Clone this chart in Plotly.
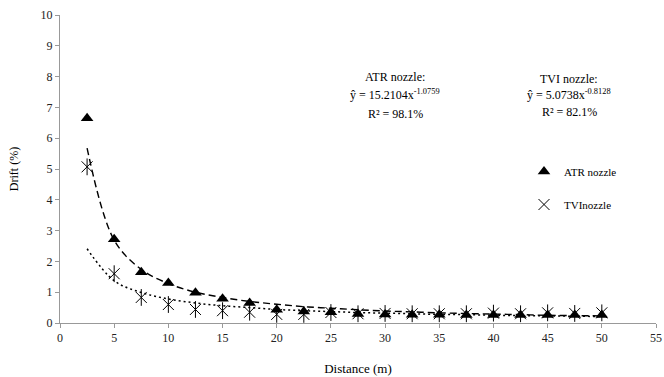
import plotly.graph_objects as go

distance = [2.5, 5, 7.5, 10, 12.5, 15, 17.5, 20, 22.5, 25, 27.5, 30, 32.5, 35, 37.5, 40, 42.5, 45, 47.5, 50]
atr_drift = [6.65, 2.72, 1.65, 1.30, 0.98, 0.79, 0.65, 0.43, 0.37, 0.35, 0.29, 0.28, 0.27, 0.27, 0.26, 0.26, 0.26, 0.26, 0.26, 0.26]
tvi_drift = [5.07, 1.60, 0.83, 0.60, 0.44, 0.40, 0.35, 0.28, 0.28, 0.34, 0.30, 0.31, 0.30, 0.30, 0.30, 0.32, 0.30, 0.33, 0.31, 0.33]
atr_fit = [5.68, 2.69, 1.74, 1.28, 1.00, 0.83, 0.70, 0.61, 0.53, 0.48, 0.43, 0.39, 0.36, 0.33, 0.31, 0.29, 0.27, 0.25, 0.24, 0.23]
tvi_fit = [2.41, 1.37, 0.99, 0.78, 0.65, 0.56, 0.50, 0.44, 0.40, 0.37, 0.34, 0.32, 0.30, 0.28, 0.27, 0.25, 0.24, 0.23, 0.22, 0.21]

FONT = "Liberation Serif"

fig = go.Figure()
fig.add_trace(go.Scatter(x=distance, y=atr_fit, mode="lines", line=dict(color="black", dash="7px,4px", width=1.4, shape="spline"), showlegend=False, hoverinfo="skip"))
fig.add_trace(go.Scatter(x=distance, y=tvi_fit, mode="lines", line=dict(color="black", dash="2px,3px", width=1.5, shape="spline"), showlegend=False, hoverinfo="skip"))
fig.add_trace(go.Scatter(x=distance, y=tvi_drift, mode="markers", legendgroup="tvi", legendrank=2, marker=dict(symbol="line-ns-open", size=12, color="black", line=dict(color="black", width=1)), showlegend=False, hoverinfo="skip"))
fig.add_trace(go.Scatter(x=distance, y=tvi_drift, mode="markers", name="TVInozzle", legendgroup="tvi", legendrank=2,
                         marker=dict(symbol="x-thin-open", size=11, color="black", line=dict(color="black", width=1))))
fig.add_trace(go.Scatter(x=distance, y=atr_drift, mode="markers", name="ATR nozzle", legendgroup="atr", legendrank=1,
                         marker=dict(symbol="triangle-up", size=11, color="black")))

ann = dict(xref="paper", yref="paper", showarrow=False, xanchor="center", yanchor="middle",
           font=dict(family=FONT, size=12, color="black"))
def px_x(p):
    return (p - 60) / 596.0
def px_y(p):
    return (323 - p) / 308.0

fig.add_annotation(x=px_x(395), y=px_y(77), text="ATR nozzle:", **ann)
fig.add_annotation(x=px_x(395), y=px_y(95), text="ŷ = 15.2104x<sup>-1.0759</sup>", **ann)
fig.add_annotation(x=px_x(395), y=px_y(114), text="R² = 98.1%", **ann)
fig.add_annotation(x=px_x(569), y=px_y(79), text="TVI nozzle:", **ann)
fig.add_annotation(x=px_x(569), y=px_y(95), text="ŷ = 5.0738x<sup>-0.8128</sup>", **ann)
fig.add_annotation(x=px_x(569), y=px_y(112), text="R² = 82.1%", **ann)

axis_common = dict(showgrid=False, zeroline=False, showline=True, linecolor="#999999", linewidth=1,
                   ticks="outside", ticklen=4, tickcolor="#999999", automargin=False,
                   tickfont=dict(family=FONT, size=12, color="#222222"))

fig.update_layout(
    width=664, height=377,
    margin=dict(l=60, r=8, t=15, b=54, autoexpand=False),
    paper_bgcolor="white", plot_bgcolor="white",
    font=dict(family=FONT, size=11, color="black"),
    xaxis=dict(range=[0, 55], dtick=5, tick0=0,
               title=dict(text="Distance (m)", font=dict(family=FONT, size=13), standoff=19), **axis_common),
    yaxis=dict(range=[0, 10], dtick=1, tick0=0,
               title=dict(text="Drift (%)", font=dict(family=FONT, size=12), standoff=19), **axis_common),
    legend=dict(x=px_x(524), y=px_y(157), xanchor="left", yanchor="top", traceorder="grouped",
                bgcolor="rgba(0,0,0,0)", font=dict(family=FONT, size=11), itemwidth=30, tracegroupgap=14),
)

fig.write_html("out.html", config={"displayModeBar": False},
               post_script="document.body.style.margin='0';document.body.style.padding='0';")
